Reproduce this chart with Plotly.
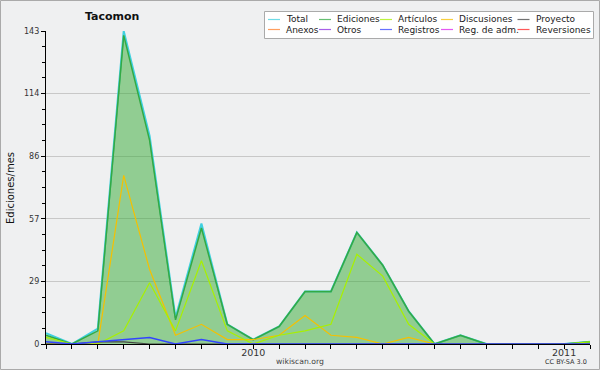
import plotly.graph_objects as go

# ---- data ----
months = ["2009-05", "2009-06", "2009-07", "2009-08", "2009-09", "2009-10",
          "2009-11", "2009-12", "2010-01", "2010-02", "2010-03", "2010-04",
          "2010-05", "2010-06", "2010-07", "2010-08", "2010-09", "2010-10",
          "2010-11", "2010-12", "2011-01", "2011-02"]
total       = [5, 0, 7, 143, 95, 12, 55, 9, 2, 8, 24, 24, 51, 36, 15, 0, 4, 0, 0, 0, 0, 1]
ediciones   = [4, 0, 6, 141, 93, 11, 53, 9, 2, 8, 24, 24, 51, 36, 15, 0, 4, 0, 0, 0, 0, 1]
articulos   = [3, 0, 0, 6, 28, 6, 38, 6, 0, 4, 6, 9, 41, 31, 9, 0, 0, 0, 0, 0, 0, 1]
discusiones = [0, 0, 0, 77, 34, 4, 9, 2, 2, 4, 13, 4, 3, 0, 3, 0, 0, 0, 0, 0, 0, 0]
proyecto    = [0, 0, 1, 1, 0, 0, 0, 0, 0, 0, 0, 0, 0, 0, 0, 0, 0, 0, 0, 0, 0, 0]
registros   = [1, 0, 1, 2, 3, 0, 2, 0, 0, 0, 0, 0, 0, 0, 0, 0, 0, 0, 0, 0, 0, 0]

y_max = 143
y_tick_labels = ["0", "29", "57", "86", "114", "143"]
x_year_labels = {"2010-01": "2010", "2011-01": "2011"}

legend_names = ["Total", "Ediciones", "Artículos", "Discusiones", "Proyecto",
                "Anexos", "Otros", "Registros", "Reg. de adm.", "Reversiones"]
legend_colors = ["#40d0e0", "#33aa44", "#a8f000", "#f5c000", "#444444",
                 "#ff7f2a", "#8b2be2", "#3344ff", "#dd22ee", "#ff2222"]
col = dict(zip(legend_names, legend_colors))

title_text = "Tacomon"
y_title = "Ediciones/mes"

# ---- geometry ----
W, H = 600, 370
L, R, T, B = 46, 10, 31, 26
PW, PH = W - L - R, H - T - B


def px(x):
    return (x - L) / PW


def py(y):
    return (H - B - y) / PH


FONT = "DejaVu Sans"
fig = go.Figure()

fig.add_trace(go.Scatter(x=months, y=total, mode="lines",
                         line=dict(color=col["Total"], width=2), showlegend=False))
fig.add_trace(go.Scatter(x=months, y=ediciones, mode="lines", fill="tozeroy",
                         fillcolor="rgba(51,170,51,0.5)",
                         line=dict(color=col["Ediciones"], width=1.5), showlegend=False))
fig.add_trace(go.Scatter(x=months, y=discusiones, mode="lines",
                         line=dict(color=col["Discusiones"], width=1.2), showlegend=False))
fig.add_trace(go.Scatter(x=months, y=articulos, mode="lines",
                         line=dict(color=col["Artículos"], width=1.2), showlegend=False))
fig.add_trace(go.Scatter(x=months, y=proyecto, mode="lines",
                         line=dict(color=col["Proyecto"], width=1.2), showlegend=False))
fig.add_trace(go.Scatter(x=months, y=registros, mode="lines",
                         line=dict(color=col["Registros"], width=1.5), showlegend=False))

shapes = []
annotations = []

# legend box
bx0, bx1, by0, by1 = 264.5, 593.5, 11.5, 38.5
shapes.append(dict(type="rect", xref="paper", yref="paper", layer="above",
                   x0=px(bx0), x1=px(bx1), y0=py(by1), y1=py(by0),
                   fillcolor="#ffffff", line=dict(color="#aaaaaa", width=1)))
col_x = [268, 319, 380, 441, 517.5]
row_y = [19.5, 29.5]
for i, (name, c) in enumerate(zip(legend_names, legend_colors)):
    r, k = divmod(i, 5)
    x0 = col_x[k]
    yy = row_y[r]
    shapes.append(dict(type="line", xref="paper", yref="paper", layer="above",
                       x0=px(x0), x1=px(x0 + 12), y0=py(yy), y1=py(yy),
                       line=dict(color=c, width=1.2), opacity=0.75))
    annotations.append(dict(text=name, xref="paper", yref="paper", showarrow=False,
                            x=px(x0 + 16), y=py(yy), xanchor="left", yanchor="middle",
                            font=dict(family=FONT, size=9, color="#222222")))

# outer border
shapes.append(dict(type="rect", xref="paper", yref="paper", layer="above",
                   x0=px(0.5), x1=px(599.5), y0=py(369.5), y1=py(0.5),
                   line=dict(color="#aaaaaa", width=1)))

annotations.append(dict(text="<b>" + title_text + "</b>", xref="paper", yref="paper",
                        showarrow=False, x=px(112), y=py(16.5), xanchor="center",
                        yanchor="middle", font=dict(family=FONT, size=11, color="#111111")))
annotations.append(dict(text=y_title, xref="paper", yref="paper", showarrow=False,
                        x=px(10), y=py(188), textangle=-90, xanchor="center",
                        yanchor="middle", font=dict(family=FONT, size=10, color="#111111")))
annotations.append(dict(text="wikiscan.org", xref="paper", yref="paper", showarrow=False,
                        x=px(300), y=py(361), xanchor="center", yanchor="middle",
                        font=dict(family=FONT, size=7.7, color="#444444")))
annotations.append(dict(text="CC BY-SA 3.0", xref="paper", yref="paper", showarrow=False,
                        x=px(589), y=py(362), xanchor="right", yanchor="middle",
                        font=dict(family=FONT, size=6.5, color="#333333")))

ytickvals = [i * y_max / (len(y_tick_labels) - 1) for i in range(len(y_tick_labels))]

fig.update_layout(
    width=W, height=H, autosize=False,
    margin=dict(l=L, r=R, t=T, b=B, pad=0, autoexpand=False),
    paper_bgcolor="#eff0f1", plot_bgcolor="#eff0f1",
    showlegend=False,
    shapes=shapes, annotations=annotations,
    xaxis=dict(type="category", range=[0, len(months) - 1], automargin=False,
               tickmode="array", tickvals=months,
               ticktext=[x_year_labels.get(m, "") for m in months],
               ticks="outside", ticklen=4, tickcolor="#000000", tickwidth=1,
               ticklabelstandoff=-5,
               showline=True, linecolor="#000000", linewidth=1.3,
               showgrid=False, zeroline=False,
               tickfont=dict(family=FONT, size=9.5, color="#333333")),
    yaxis=dict(range=[0, y_max], tickmode="array", tickvals=ytickvals, automargin=False,
               ticktext=y_tick_labels,
               ticks="outside", ticklen=4, tickcolor="#000000", tickwidth=1,
               showline=True, linecolor="#000000", linewidth=1.3,
               showgrid=True, gridcolor="#c8c8c8", gridwidth=1, zeroline=False,
               minor=dict(tickmode="linear", tick0=0, dtick=y_max / 20,
                          ticks="outside", ticklen=3, tickcolor="#000000", showgrid=False),
               tickfont=dict(family=FONT, size=8, color="#333333")),
)

fig.write_html("out.html", config={"displayModeBar": False})

# remove the browser's default page margin so the figure fills the window
with open("out.html", "r", encoding="utf-8") as f:
    html = f.read()
html = html.replace("<head>", "<head><style>html,body{margin:0;padding:0;overflow:hidden;}</style>", 1)
with open("out.html", "w", encoding="utf-8") as f:
    f.write(html)
